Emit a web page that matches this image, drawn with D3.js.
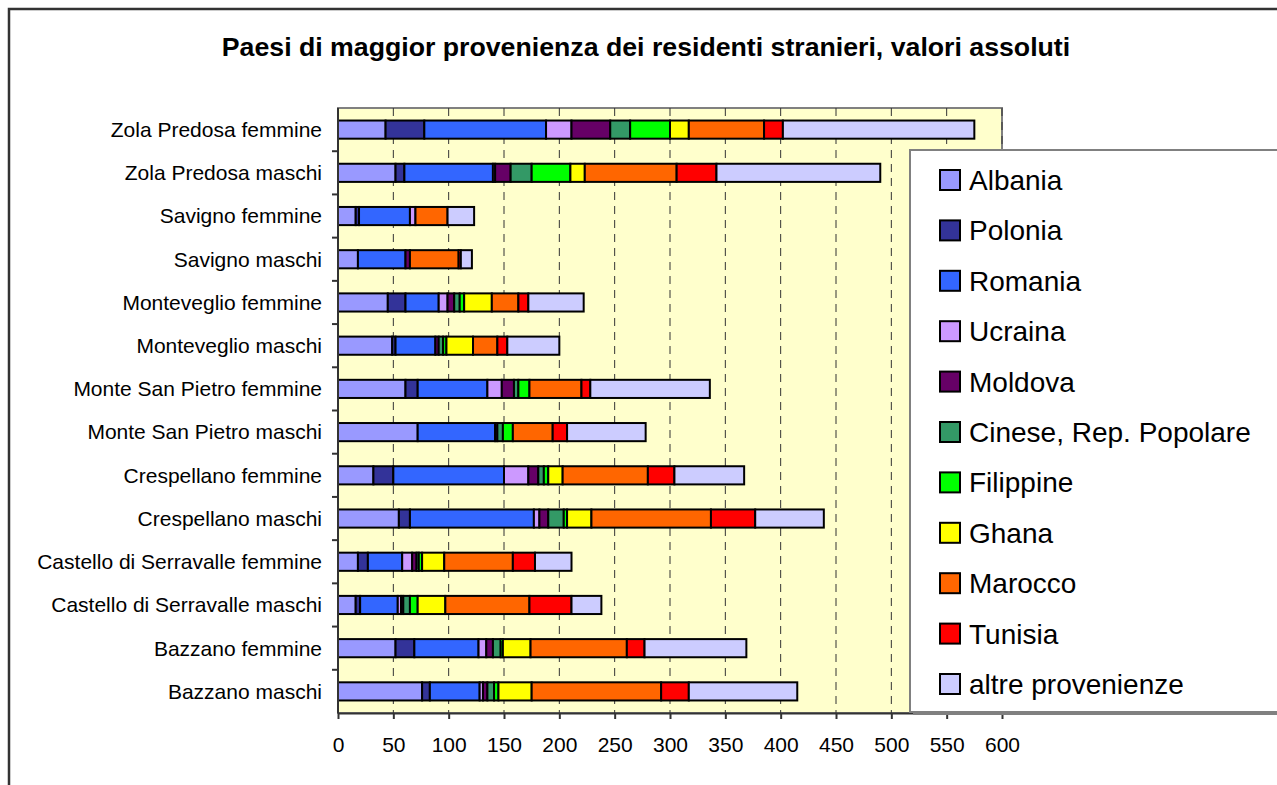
<!DOCTYPE html>
<html><head><meta charset="utf-8">
<script src="https://cdn.jsdelivr.net/npm/d3@7"></script>
<style>body{margin:0;background:#fff;} svg{display:block;font-family:"Liberation Sans",Arial,sans-serif;}</style>
</head><body>
<svg id="c" width="1277" height="785"></svg>
<script>
const categories = ["Zola Predosa femmine","Zola Predosa maschi","Savigno femmine","Savigno maschi","Monteveglio femmine","Monteveglio maschi","Monte San Pietro femmine","Monte San Pietro maschi","Crespellano femmine","Crespellano maschi","Castello di Serravalle femmine","Castello di Serravalle maschi","Bazzano femmine","Bazzano maschi"];
const seriesNames = ["Albania","Polonia","Romania","Ucraina","Moldova","Cinese, Rep. Popolare","Filippine","Ghana","Marocco","Tunisia","altre provenienze"];
const colors = ["#9999FF","#333399","#3366FF","#CC99FF","#660066","#339966","#00FF00","#FFFF00","#FF6600","#FF0000","#CCCCFF"];
const albania   = [43, 52, 16, 18, 45, 49, 61, 72, 32, 55, 18, 16, 52, 76];
const polonia   = [35, 8, 3, 0, 16, 3, 11, 0, 18, 10, 9, 4, 17, 7];
const romania   = [110, 80, 46, 43, 30, 36, 63, 70, 100, 112, 31, 34, 58, 45];
const ucraina   = [23, 2, 5, 0, 8, 0, 13, 0, 22, 5, 9, 3, 7, 3];
const moldova   = [35, 14, 0, 4, 6, 3, 11, 2, 9, 8, 4, 2, 6, 4];
const cinese    = [18, 19, 0, 0, 5, 4, 4, 5, 5, 14, 2, 6, 7, 6];
const filippine = [36, 35, 0, 0, 4, 3, 10, 9, 4, 3, 3, 7, 2, 4];
const ghana     = [17, 13, 0, 0, 25, 24, 0, 0, 13, 22, 20, 25, 25, 30];
const marocco   = [68, 83, 29, 44, 24, 22, 47, 36, 77, 108, 62, 76, 87, 117];
const tunisia   = [17, 36, 0, 2, 9, 9, 8, 13, 24, 40, 20, 38, 16, 25];
const altre     = [173, 148, 24, 10, 50, 47, 108, 71, 63, 62, 33, 27, 92, 98];
const seriesValues = [albania,polonia,romania,ucraina,moldova,cinese,filippine,ghana,marocco,tunisia,altre];
const xTicks = [0,50,100,150,200,250,300,350,400,450,500,550,600];
const title = "Paesi di maggior provenienza dei residenti stranieri, valori assoluti";

const svg = d3.select("#c");
// outer border
svg.append("rect").attr("x",9).attr("y",9).attr("width",1400).attr("height",900)
  .attr("fill","none").attr("stroke","#333").attr("stroke-width",2.5);

svg.append("text").attr("x",646).attr("y",56).attr("text-anchor","middle")
  .attr("font-weight","bold").attr("font-size",26.7).text(title);

const L=338,R=1002,T=108,B=713;
const x = d3.scaleLinear().domain([0,600]).range([L,R]);
const y = d3.scaleBand().domain(categories).range([T,B]).paddingInner(0.58).paddingOuter(0.29);
const yb = d3.scaleBand().domain(categories).range([T,B]);

svg.append("rect").attr("x",L).attr("y",T).attr("width",R-L).attr("height",B-T)
  .attr("fill","#FFFFCC").attr("stroke","#808080").attr("stroke-width",2);

// gridlines
svg.append("g").selectAll("line").data(xTicks.slice(1)).join("line")
  .attr("x1",d=>x(d)).attr("x2",d=>x(d)).attr("y1",T).attr("y2",B)
  .attr("stroke","#333").attr("stroke-width",1).attr("stroke-dasharray","8,6");

// bars
const table = categories.map((c,i)=>{const o={cat:c}; seriesNames.forEach((s,j)=>o[s]=seriesValues[j][i]); return o;});
const stack = d3.stack().keys(seriesNames)(table);
const g = svg.append("g");
stack.forEach((layer,j)=>{
  g.selectAll(null).data(layer.filter(d=>d[1]-d[0]>0)).join("rect")
    .attr("x",d=>x(d[0])).attr("width",d=>x(d[1])-x(d[0]))
    .attr("y",d=>y(d.data.cat)).attr("height",y.bandwidth())
    .attr("fill",colors[j]).attr("stroke","#000").attr("stroke-width",2);
});

// axes
const xa = svg.append("g").attr("transform",`translate(0,${B})`)
  .call(d3.axisBottom(x).tickValues(xTicks).tickSize(6).tickSizeOuter(0).tickPadding(18));
xa.select(".domain").attr("stroke","#333").attr("stroke-width",2);
xa.selectAll(".tick line").attr("stroke","#333").attr("stroke-width",2);
xa.selectAll("text").attr("font-size",21).attr("font-family","Liberation Sans, Arial, sans-serif").attr("fill","#000");

const ya = svg.append("g").attr("transform",`translate(${L},0)`);
ya.append("line").attr("x1",0).attr("x2",0).attr("y1",T).attr("y2",B).attr("stroke","#333").attr("stroke-width",2);
ya.selectAll("line.t").data(categories.slice(1)).join("line").attr("class","t")
  .attr("x1",-6).attr("x2",0).attr("y1",d=>yb(d)).attr("y2",d=>yb(d)).attr("stroke","#333").attr("stroke-width",2);
ya.selectAll("text").data(categories).join("text")
  .attr("x",-16).attr("y",d=>yb(d)+yb.bandwidth()/2).attr("dy","0.35em")
  .attr("text-anchor","end").attr("font-size",21).text(d=>d);

// legend
const lg = svg.append("g");
lg.append("rect").attr("x",913).attr("y",153).attr("width",500).attr("height",562).attr("fill","#808080");
lg.append("rect").attr("x",910).attr("y",150).attr("width",500).attr("height",562)
  .attr("fill","#fff").attr("stroke","#808080").attr("stroke-width",2);
const ly = d3.scalePoint().domain(seriesNames).range([180,684]);
seriesNames.forEach((s,j)=>{
  lg.append("rect").attr("x",940).attr("y",ly(s)-10).attr("width",20).attr("height",20)
    .attr("fill",colors[j]).attr("stroke","#000").attr("stroke-width",2);
  lg.append("text").attr("x",969).attr("y",ly(s)).attr("dy","0.36em").attr("font-size",28).text(s);
});
</script>
</body></html>
